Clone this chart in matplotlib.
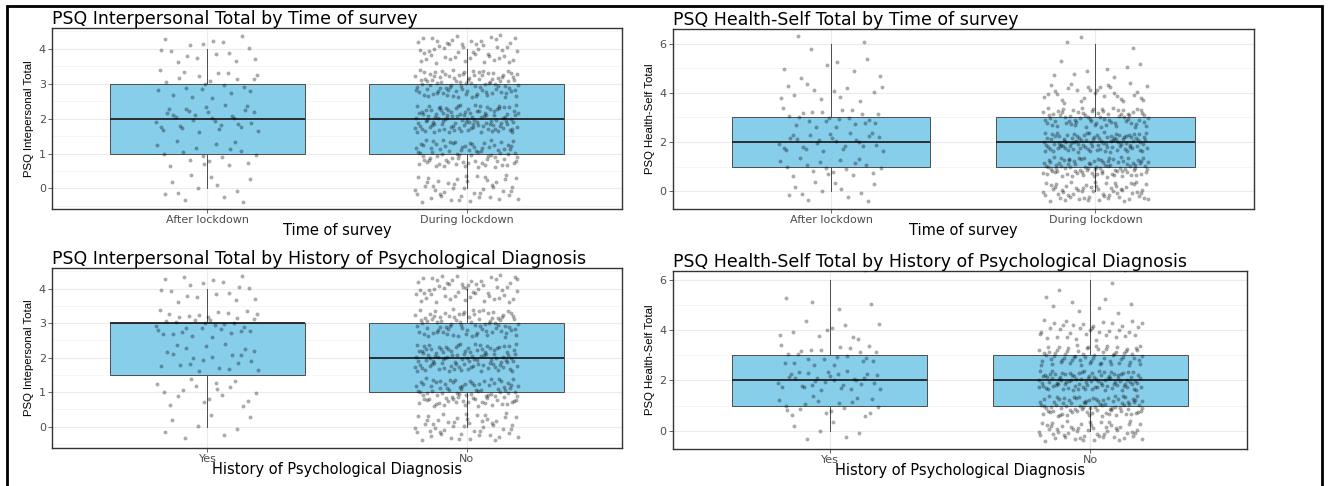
import numpy as np
import matplotlib.pyplot as plt
from matplotlib.patches import Rectangle
from matplotlib.ticker import MultipleLocator

plt.rcParams['font.family'] = ['DejaVu Sans']

# counts of respondents at each total score
score_ip = [0, 1, 2, 3, 4]
score_hs = [0, 1, 2, 3, 4, 5, 6]

time_groups = ['After lockdown', 'During lockdown']
ip_time_counts = [[12, 18, 30, 22, 16],
                  [45, 80, 115, 95, 50]]
hs_time_counts = [[12, 18, 26, 22, 12, 7, 3],
                  [60, 90, 100, 70, 30, 8, 3]]

diag_groups = ['Yes', 'No']
ip_diag_counts = [[8, 17, 22, 34, 18],
                  [50, 90, 105, 85, 55]]
hs_diag_counts = [[6, 18, 30, 22, 10, 4, 1],
                  [55, 85, 95, 65, 35, 8, 3]]

BOX_FILL = '#87CEEB'


def halton(i, base):
    out = np.zeros(len(i))
    f = 1.0
    i = i.copy()
    while np.any(i > 0):
        f /= base
        out += f * (i % base)
        i //= base
    return out


def jitter(n, start):
    # evenly spread offsets in [-0.5, 0.5) for the jittered points
    i = np.arange(start, start + n)
    return halton(i, 2) - 0.5, halton(i, 3) - 0.5


def panel(ax, groups, counts, scores, title, xlabel, ylabel, ylim, ystep):
    data = [np.repeat(scores, c) for c in counts]
    ax.boxplot(data, positions=[1, 2], widths=0.75, patch_artist=True,
               showfliers=False, showcaps=False, whis=1.5,
               boxprops=dict(facecolor=BOX_FILL, edgecolor='#4d4d4d', linewidth=0.7),
               medianprops=dict(color='#222222', linewidth=1.3),
               whiskerprops=dict(color='#4d4d4d', linewidth=0.7),
               zorder=2)
    for k, (pos, vals) in enumerate(zip([1, 2], data)):
        dx, dy = jitter(len(vals), 17 + 611 * k)
        ax.scatter(pos + dx * 0.4, vals + dy * 0.8, s=8, color='black',
                   alpha=0.33, linewidths=0, zorder=3)

    ax.set_xlim(0.4, 2.6)
    ax.set_ylim(*ylim)
    ax.set_xticks([1, 2])
    ax.set_xticklabels(groups)
    ax.yaxis.set_major_locator(MultipleLocator(ystep))
    ax.yaxis.set_minor_locator(MultipleLocator(ystep / 2))
    ax.tick_params(axis='both', which='major', labelsize=8, colors='#4d4d4d',
                   length=3, width=0.6, pad=1.5)
    ax.tick_params(axis='y', which='minor', length=0)
    ax.grid(True, which='major', color='#ebebeb', linewidth=0.8, zorder=0)
    ax.grid(True, which='minor', axis='y', color='#f4f4f4', linewidth=0.6, zorder=0)
    ax.set_axisbelow(True)
    for sp in ax.spines.values():
        sp.set_color('#333333')
        sp.set_linewidth(1.0)
    ax.set_title(title, loc='left', fontsize=12.5, pad=1.5)
    ax.set_xlabel(xlabel, fontsize=10.5, labelpad=-1.5)
    ax.set_ylabel(ylabel, fontsize=8.2, labelpad=3, family='Liberation Sans')


fig = plt.figure(figsize=(13.3, 4.86), dpi=100)

ax1 = fig.add_axes([0.0391, 0.570, 0.4286, 0.3724])
ax2 = fig.add_axes([0.506, 0.570, 0.4368, 0.370])
ax3 = fig.add_axes([0.0391, 0.0782, 0.4286, 0.370])
ax4 = fig.add_axes([0.506, 0.0761, 0.4316, 0.366])

panel(ax1, time_groups, ip_time_counts, score_ip,
      'PSQ Interpersonal Total by Time of survey', 'Time of survey',
      'PSQ Intepersonal Total', (-0.59, 4.6), 1)
panel(ax2, time_groups, hs_time_counts, score_hs,
      'PSQ Health-Self Total by Time of survey', 'Time of survey',
      'PSQ Health-Self Total', (-0.72, 6.59), 2)
panel(ax3, diag_groups, ip_diag_counts, score_ip,
      'PSQ Interpersonal Total by History of Psychological Diagnosis',
      'History of Psychological Diagnosis',
      'PSQ Intepersonal Total', (-0.62, 4.59), 1)
panel(ax4, diag_groups, hs_diag_counts, score_hs,
      'PSQ Health-Self Total by History of Psychological Diagnosis',
      'History of Psychological Diagnosis',
      'PSQ Health-Self Total', (-0.72, 6.34), 2)

# outer frame around the whole figure
fig.add_artist(Rectangle((7 / 1330, -0.05), 1315 / 1330, 1.05 - 6 / 486,
                         transform=fig.transFigure, fill=False,
                         edgecolor='black', linewidth=2))

fig.savefig('out.png', dpi=100)
